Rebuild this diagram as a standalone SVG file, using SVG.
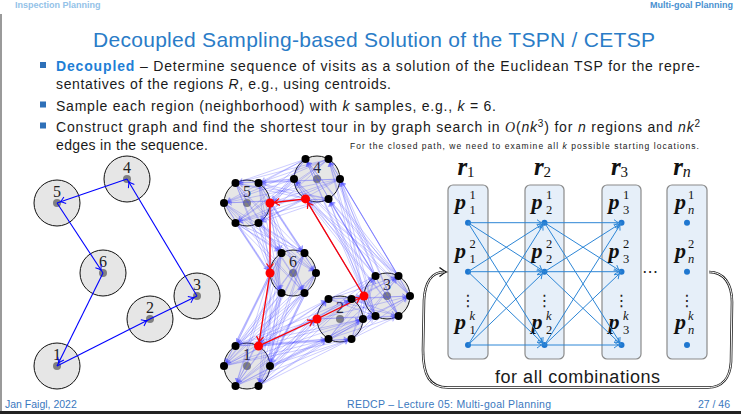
<svg xmlns="http://www.w3.org/2000/svg" width="741" height="414" viewBox="0 0 741 414">
<style>
.sans{font-family:"Liberation Sans",Arial,sans-serif}
.serif{font-family:"Liberation Serif","Times New Roman",serif}
.body{font-size:14px;fill:#1a1a1a}
.bul{fill:#2e70b8}
.reg{fill:#e6e6e6;stroke:#111;stroke-width:1}
.ctr{fill:#808080}
.num{font-family:"Liberation Serif",serif;font-size:16px;fill:#222;text-anchor:middle}
.blue{stroke:#0000ff;stroke-width:1.1;fill:none;marker-end:url(#ab)}
.light path{stroke:#4848ff;stroke-opacity:0.34;stroke-width:0.8;fill:none;marker-end:url(#al)}
.red{stroke:#ff0000;stroke-width:1.3;fill:none;marker-end:url(#ar)}
.samp{fill:#000}
.rsamp{fill:#ff0000}
.box{fill:#e6eff9;stroke:#8a8a8a;stroke-width:1.2}
.dot{fill:#1f77d0}
.edge{stroke:#2d86d6;stroke-width:1;fill:none;marker-end:url(#ae)}
.pm{font-family:"Liberation Serif",serif;font-weight:bold;font-style:italic;font-size:22px;fill:#111}
.sc{font-family:"Liberation Serif",serif;font-size:12.5px;fill:#111}
.rm{font-family:"Liberation Serif",serif;font-weight:bold;font-style:italic;font-size:25px;fill:#111}
</style>
<defs>
<marker id="ab" markerUnits="userSpaceOnUse" refX="3.5" refY="0" markerWidth="12" markerHeight="12" orient="auto" overflow="visible"><path d="M-5,-3.5 Q-1.5,-0.7 0,0 Q-1.5,0.7 -5,3.5" fill="none" stroke="#0000ff" stroke-width="1"/></marker>
<marker id="al" markerUnits="userSpaceOnUse" refX="4" refY="0" markerWidth="10" markerHeight="10" orient="auto" overflow="visible"><path d="M-3.5,-2.5 Q-1,-0.5 0,0 Q-1,0.5 -3.5,2.5" fill="none" stroke="#4848ff" stroke-opacity="0.5" stroke-width="0.7"/></marker>
<marker id="ar" markerUnits="userSpaceOnUse" refX="4.5" refY="0" markerWidth="12" markerHeight="12" orient="auto" overflow="visible"><path d="M-5,-3.5 Q-1.5,-0.7 0,0 Q-1.5,0.7 -5,3.5" fill="none" stroke="#ff0000" stroke-width="1.2"/></marker>
<marker id="ae" markerUnits="userSpaceOnUse" refX="3" refY="0" markerWidth="12" markerHeight="12" orient="auto" overflow="visible"><path d="M-4.5,-3 Q-1.2,-0.6 0,0 Q-1.2,0.6 -4.5,3" fill="none" stroke="#2d86d6" stroke-width="1"/></marker>
</defs>
<rect width="741" height="414" fill="#ffffff"/>
<rect x="0" y="14" width="2" height="397" fill="#9a9a9a"/>
<rect x="0" y="411" width="741" height="3" fill="#222"/>
<g id="header" class="sans" font-size="9" font-weight="bold">
<text x="15" y="8" fill="#93c2e8">Inspection Planning</text>
<text x="733" y="8" fill="#4a90d0" text-anchor="end">Multi-goal Planning</text>
</g>
<text id="title" class="sans" x="374" y="47" font-size="21" fill="#2a7cc7" text-anchor="middle" textLength="562">Decoupled Sampling-based Solution of the TSPN / CETSP</text>
<g id="bullets">
<rect class="bul" x="40" y="62" width="6" height="6"/>
<rect class="bul" x="40" y="101.5" width="6" height="6"/>
<rect class="bul" x="40" y="122.5" width="6" height="6"/>
<text class="sans body" x="56" y="71" textLength="644"><tspan fill="#1f7fd6" font-weight="bold">Decoupled</tspan> – Determine sequence of visits as a solution of the Euclidean TSP for the repre-</text>
<text class="sans body" x="56" y="89" textLength="335">sentatives of the regions <tspan font-style="italic">R</tspan>, e.g., using centroids.</text>
<text class="sans body" x="56" y="110.5" textLength="440">Sample each region (neighborhood) with <tspan font-style="italic">k</tspan> samples, e.g., <tspan font-style="italic">k</tspan> = 6.</text>
<text class="sans body" x="56" y="131.5" textLength="644">Construct graph and find the shortest tour in by graph search in <tspan class="serif" font-style="italic">O</tspan>(<tspan font-style="italic">nk</tspan><tspan font-size="10" dy="-5">3</tspan><tspan dy="5">) for </tspan><tspan font-style="italic">n</tspan> regions and <tspan font-style="italic">nk</tspan><tspan font-size="10" dy="-5">2</tspan></text>
<text class="sans body" x="56" y="149.5" textLength="152">edges in the sequence.</text>
<text class="sans" x="350" y="149" font-size="8.5" fill="#1a1a1a" textLength="349">For the closed path, we need to examine all <tspan font-style="italic">k</tspan> possible starting locations.</text>
</g>
<g id="left-diagram">
<g id="l1"><circle class="reg" cx="57" cy="366" r="23"/><circle class="ctr" cx="57" cy="366" r="4"/><text class="num" x="57" y="360">1</text></g>
<g id="l2"><circle class="reg" cx="150" cy="319" r="23"/><circle class="ctr" cx="150" cy="319" r="4"/><text class="num" x="150" y="313">2</text></g>
<g id="l3"><circle class="reg" cx="197" cy="296" r="23"/><circle class="ctr" cx="197" cy="296" r="4"/><text class="num" x="197" y="290">3</text></g>
<g id="l4"><circle class="reg" cx="127" cy="179" r="23"/><circle class="ctr" cx="127" cy="179" r="4"/><text class="num" x="127" y="173">4</text></g>
<g id="l5"><circle class="reg" cx="57" cy="203" r="23"/><circle class="ctr" cx="57" cy="203" r="4"/><text class="num" x="57" y="197">5</text></g>
<g id="l6"><circle class="reg" cx="103" cy="273" r="23"/><circle class="ctr" cx="103" cy="273" r="4"/><text class="num" x="103" y="267">6</text></g>
<g id="l-connectors">
<path class="blue" d="M57 366L150 319"/>
<path class="blue" d="M150 319L197 296"/>
<path class="blue" d="M197 296L127 179"/>
<path class="blue" d="M127 179L57 203"/>
<path class="blue" d="M57 203L103 273"/>
<path class="blue" d="M103 273L57 366"/>
</g>
</g>
<g id="middle-diagram">
<g id="m1"><circle class="reg" cx="247" cy="366" r="23"/><circle class="ctr" cx="247" cy="366" r="4"/><text class="num" x="247" y="360">1</text></g>
<g id="m2"><circle class="reg" cx="340" cy="319" r="23"/><circle class="ctr" cx="340" cy="319" r="4"/><text class="num" x="340" y="313">2</text></g>
<g id="m3"><circle class="reg" cx="387" cy="296" r="23"/><circle class="ctr" cx="387" cy="296" r="4"/><text class="num" x="387" y="290">3</text></g>
<g id="m4"><circle class="reg" cx="317" cy="179" r="23"/><circle class="ctr" cx="317" cy="179" r="4"/><text class="num" x="317" y="173">4</text></g>
<g id="m5"><circle class="reg" cx="247" cy="203" r="23"/><circle class="ctr" cx="247" cy="203" r="4"/><text class="num" x="247" y="197">5</text></g>
<g id="m6"><circle class="reg" cx="293" cy="273" r="23"/><circle class="ctr" cx="293" cy="273" r="4"/><text class="num" x="293" y="267">6</text></g>
<g id="m-connectors">
<g class="light">
<path d="M270 366L363 319"/><path d="M270 366L351.5 299.1"/><path d="M270 366L328.5 299.1"/><path d="M270 366L317 319"/><path d="M270 366L328.5 338.9"/><path d="M270 366L351.5 338.9"/>
<path d="M258.5 346.1L363 319"/><path d="M258.5 346.1L351.5 299.1"/><path d="M258.5 346.1L328.5 299.1"/><path d="M258.5 346.1L317 319"/><path d="M258.5 346.1L328.5 338.9"/><path d="M258.5 346.1L351.5 338.9"/>
<path d="M235.5 346.1L363 319"/><path d="M235.5 346.1L351.5 299.1"/><path d="M235.5 346.1L328.5 299.1"/><path d="M235.5 346.1L317 319"/><path d="M235.5 346.1L328.5 338.9"/><path d="M235.5 346.1L351.5 338.9"/>
<path d="M224 366L363 319"/><path d="M224 366L351.5 299.1"/><path d="M224 366L328.5 299.1"/><path d="M224 366L317 319"/><path d="M224 366L328.5 338.9"/><path d="M224 366L351.5 338.9"/>
<path d="M235.5 385.9L363 319"/><path d="M235.5 385.9L351.5 299.1"/><path d="M235.5 385.9L328.5 299.1"/><path d="M235.5 385.9L317 319"/><path d="M235.5 385.9L328.5 338.9"/><path d="M235.5 385.9L351.5 338.9"/>
<path d="M258.5 385.9L363 319"/><path d="M258.5 385.9L351.5 299.1"/><path d="M258.5 385.9L328.5 299.1"/><path d="M258.5 385.9L317 319"/><path d="M258.5 385.9L328.5 338.9"/><path d="M258.5 385.9L351.5 338.9"/>

<path d="M363 319L410 296"/><path d="M363 319L398.5 276.1"/><path d="M363 319L375.5 276.1"/><path d="M363 319L364 296"/><path d="M363 319L375.5 315.9"/><path d="M363 319L398.5 315.9"/>
<path d="M351.5 299.1L410 296"/><path d="M351.5 299.1L398.5 276.1"/><path d="M351.5 299.1L375.5 276.1"/><path d="M351.5 299.1L364 296"/><path d="M351.5 299.1L375.5 315.9"/><path d="M351.5 299.1L398.5 315.9"/>
<path d="M328.5 299.1L410 296"/><path d="M328.5 299.1L398.5 276.1"/><path d="M328.5 299.1L375.5 276.1"/><path d="M328.5 299.1L364 296"/><path d="M328.5 299.1L375.5 315.9"/><path d="M328.5 299.1L398.5 315.9"/>
<path d="M317 319L410 296"/><path d="M317 319L398.5 276.1"/><path d="M317 319L375.5 276.1"/><path d="M317 319L364 296"/><path d="M317 319L375.5 315.9"/><path d="M317 319L398.5 315.9"/>
<path d="M328.5 338.9L410 296"/><path d="M328.5 338.9L398.5 276.1"/><path d="M328.5 338.9L375.5 276.1"/><path d="M328.5 338.9L364 296"/><path d="M328.5 338.9L375.5 315.9"/><path d="M328.5 338.9L398.5 315.9"/>
<path d="M351.5 338.9L410 296"/><path d="M351.5 338.9L398.5 276.1"/><path d="M351.5 338.9L375.5 276.1"/><path d="M351.5 338.9L364 296"/><path d="M351.5 338.9L375.5 315.9"/><path d="M351.5 338.9L398.5 315.9"/>

<path d="M410 296L340 179"/><path d="M410 296L328.5 159.1"/><path d="M410 296L305.5 159.1"/><path d="M410 296L294 179"/><path d="M410 296L305.5 198.9"/><path d="M410 296L328.5 198.9"/>
<path d="M398.5 276.1L340 179"/><path d="M398.5 276.1L328.5 159.1"/><path d="M398.5 276.1L305.5 159.1"/><path d="M398.5 276.1L294 179"/><path d="M398.5 276.1L305.5 198.9"/><path d="M398.5 276.1L328.5 198.9"/>
<path d="M375.5 276.1L340 179"/><path d="M375.5 276.1L328.5 159.1"/><path d="M375.5 276.1L305.5 159.1"/><path d="M375.5 276.1L294 179"/><path d="M375.5 276.1L305.5 198.9"/><path d="M375.5 276.1L328.5 198.9"/>
<path d="M364 296L340 179"/><path d="M364 296L328.5 159.1"/><path d="M364 296L305.5 159.1"/><path d="M364 296L294 179"/><path d="M364 296L305.5 198.9"/><path d="M364 296L328.5 198.9"/>
<path d="M375.5 315.9L340 179"/><path d="M375.5 315.9L328.5 159.1"/><path d="M375.5 315.9L305.5 159.1"/><path d="M375.5 315.9L294 179"/><path d="M375.5 315.9L305.5 198.9"/><path d="M375.5 315.9L328.5 198.9"/>
<path d="M398.5 315.9L340 179"/><path d="M398.5 315.9L328.5 159.1"/><path d="M398.5 315.9L305.5 159.1"/><path d="M398.5 315.9L294 179"/><path d="M398.5 315.9L305.5 198.9"/><path d="M398.5 315.9L328.5 198.9"/>

<path d="M340 179L270 203"/><path d="M340 179L258.5 183.1"/><path d="M340 179L235.5 183.1"/><path d="M340 179L224 203"/><path d="M340 179L235.5 222.9"/><path d="M340 179L258.5 222.9"/>
<path d="M328.5 159.1L270 203"/><path d="M328.5 159.1L258.5 183.1"/><path d="M328.5 159.1L235.5 183.1"/><path d="M328.5 159.1L224 203"/><path d="M328.5 159.1L235.5 222.9"/><path d="M328.5 159.1L258.5 222.9"/>
<path d="M305.5 159.1L270 203"/><path d="M305.5 159.1L258.5 183.1"/><path d="M305.5 159.1L235.5 183.1"/><path d="M305.5 159.1L224 203"/><path d="M305.5 159.1L235.5 222.9"/><path d="M305.5 159.1L258.5 222.9"/>
<path d="M294 179L270 203"/><path d="M294 179L258.5 183.1"/><path d="M294 179L235.5 183.1"/><path d="M294 179L224 203"/><path d="M294 179L235.5 222.9"/><path d="M294 179L258.5 222.9"/>
<path d="M305.5 198.9L270 203"/><path d="M305.5 198.9L258.5 183.1"/><path d="M305.5 198.9L235.5 183.1"/><path d="M305.5 198.9L224 203"/><path d="M305.5 198.9L235.5 222.9"/><path d="M305.5 198.9L258.5 222.9"/>
<path d="M328.5 198.9L270 203"/><path d="M328.5 198.9L258.5 183.1"/><path d="M328.5 198.9L235.5 183.1"/><path d="M328.5 198.9L224 203"/><path d="M328.5 198.9L235.5 222.9"/><path d="M328.5 198.9L258.5 222.9"/>

<path d="M270 203L316 273"/><path d="M270 203L304.5 253.1"/><path d="M270 203L281.5 253.1"/><path d="M270 203L270 273"/><path d="M270 203L281.5 292.9"/><path d="M270 203L304.5 292.9"/>
<path d="M258.5 183.1L316 273"/><path d="M258.5 183.1L304.5 253.1"/><path d="M258.5 183.1L281.5 253.1"/><path d="M258.5 183.1L270 273"/><path d="M258.5 183.1L281.5 292.9"/><path d="M258.5 183.1L304.5 292.9"/>
<path d="M235.5 183.1L316 273"/><path d="M235.5 183.1L304.5 253.1"/><path d="M235.5 183.1L281.5 253.1"/><path d="M235.5 183.1L270 273"/><path d="M235.5 183.1L281.5 292.9"/><path d="M235.5 183.1L304.5 292.9"/>
<path d="M224 203L316 273"/><path d="M224 203L304.5 253.1"/><path d="M224 203L281.5 253.1"/><path d="M224 203L270 273"/><path d="M224 203L281.5 292.9"/><path d="M224 203L304.5 292.9"/>
<path d="M235.5 222.9L316 273"/><path d="M235.5 222.9L304.5 253.1"/><path d="M235.5 222.9L281.5 253.1"/><path d="M235.5 222.9L270 273"/><path d="M235.5 222.9L281.5 292.9"/><path d="M235.5 222.9L304.5 292.9"/>
<path d="M258.5 222.9L316 273"/><path d="M258.5 222.9L304.5 253.1"/><path d="M258.5 222.9L281.5 253.1"/><path d="M258.5 222.9L270 273"/><path d="M258.5 222.9L281.5 292.9"/><path d="M258.5 222.9L304.5 292.9"/>

<path d="M316 273L270 366"/><path d="M316 273L258.5 346.1"/><path d="M316 273L235.5 346.1"/><path d="M316 273L224 366"/><path d="M316 273L235.5 385.9"/><path d="M316 273L258.5 385.9"/>
<path d="M304.5 253.1L270 366"/><path d="M304.5 253.1L258.5 346.1"/><path d="M304.5 253.1L235.5 346.1"/><path d="M304.5 253.1L224 366"/><path d="M304.5 253.1L235.5 385.9"/><path d="M304.5 253.1L258.5 385.9"/>
<path d="M281.5 253.1L270 366"/><path d="M281.5 253.1L258.5 346.1"/><path d="M281.5 253.1L235.5 346.1"/><path d="M281.5 253.1L224 366"/><path d="M281.5 253.1L235.5 385.9"/><path d="M281.5 253.1L258.5 385.9"/>
<path d="M270 273L270 366"/><path d="M270 273L258.5 346.1"/><path d="M270 273L235.5 346.1"/><path d="M270 273L224 366"/><path d="M270 273L235.5 385.9"/><path d="M270 273L258.5 385.9"/>
<path d="M281.5 292.9L270 366"/><path d="M281.5 292.9L258.5 346.1"/><path d="M281.5 292.9L235.5 346.1"/><path d="M281.5 292.9L224 366"/><path d="M281.5 292.9L235.5 385.9"/><path d="M281.5 292.9L258.5 385.9"/>
<path d="M304.5 292.9L270 366"/><path d="M304.5 292.9L258.5 346.1"/><path d="M304.5 292.9L235.5 346.1"/><path d="M304.5 292.9L224 366"/><path d="M304.5 292.9L235.5 385.9"/><path d="M304.5 292.9L258.5 385.9"/>
</g>
<path class="red" d="M258.5 346.1L317 319"/>
<path class="red" d="M317 319L364 296"/>
<path class="red" d="M364 296L305.5 198.9"/>
<path class="red" d="M305.5 198.9L270 203"/>
<path class="red" d="M270 203L270 273"/>
<path class="red" d="M270 273L258.5 346.1"/>
</g>
<g id="m-samples" class="samp">
<circle cx="270" cy="366" r="4"/><circle cx="235.5" cy="346.1" r="4"/><circle cx="224" cy="366" r="4"/><circle cx="235.5" cy="385.9" r="4"/><circle cx="258.5" cy="385.9" r="4"/>
<circle cx="363" cy="319" r="4"/><circle cx="351.5" cy="299.1" r="4"/><circle cx="328.5" cy="299.1" r="4"/><circle cx="328.5" cy="338.9" r="4"/><circle cx="351.5" cy="338.9" r="4"/>
<circle cx="410" cy="296" r="4"/><circle cx="398.5" cy="276.1" r="4"/><circle cx="375.5" cy="276.1" r="4"/><circle cx="375.5" cy="315.9" r="4"/><circle cx="398.5" cy="315.9" r="4"/>
<circle cx="340" cy="179" r="4"/><circle cx="328.5" cy="159.1" r="4"/><circle cx="305.5" cy="159.1" r="4"/><circle cx="294" cy="179" r="4"/><circle cx="328.5" cy="198.9" r="4"/>
<circle cx="258.5" cy="183.1" r="4"/><circle cx="235.5" cy="183.1" r="4"/><circle cx="224" cy="203" r="4"/><circle cx="235.5" cy="222.9" r="4"/><circle cx="258.5" cy="222.9" r="4"/>
<circle cx="316" cy="273" r="4"/><circle cx="304.5" cy="253.1" r="4"/><circle cx="281.5" cy="253.1" r="4"/><circle cx="281.5" cy="292.9" r="4"/><circle cx="304.5" cy="292.9" r="4"/>
</g>
<g id="m-selected" class="rsamp">
<circle cx="258.5" cy="346.1" r="4.5"/><circle cx="317" cy="319" r="4.5"/><circle cx="364" cy="296" r="4.5"/><circle cx="305.5" cy="198.9" r="4.5"/><circle cx="270" cy="203" r="4.5"/><circle cx="270" cy="273" r="4.5"/>
</g>
</g>
<g id="right-diagram">
<g id="r1">
<rect class="box" x="448" y="185" width="40" height="174" rx="5"/>
<text class="rm" x="466" y="175" text-anchor="middle">r<tspan font-size="15" font-weight="normal" font-style="normal" dy="2">1</tspan></text>
<text class="pm" x="455" y="208.7">p</text><text class="sc" x="469.5" y="198.5">1</text><text class="sc" x="469.5" y="214">1</text>
<text class="pm" x="455" y="257.7">p</text><text class="sc" x="469.5" y="247.5">2</text><text class="sc" x="469.5" y="263">1</text>
<text class="pm" x="455" y="329">p</text><text class="sc" x="469.5" y="319.5" font-style="italic">k</text><text class="sc" x="469.5" y="334">1</text>
<text x="468" y="306" font-family="DejaVu Sans" font-size="16" fill="#222" text-anchor="middle">⋮</text>
<circle class="dot" cx="468" cy="222.7" r="3"/><circle class="dot" cx="468" cy="271.7" r="3"/><circle class="dot" cx="468" cy="345" r="3"/>
</g>
<g id="r2">
<rect class="box" x="525" y="185" width="39" height="174" rx="5"/>
<text class="rm" x="542.5" y="175" text-anchor="middle">r<tspan font-size="15" font-weight="normal" font-style="normal" dy="2">2</tspan></text>
<text class="pm" x="531.5" y="208.7">p</text><text class="sc" x="546" y="198.5">1</text><text class="sc" x="546" y="214">2</text>
<text class="pm" x="531.5" y="257.7">p</text><text class="sc" x="546" y="247.5">2</text><text class="sc" x="546" y="263">2</text>
<text class="pm" x="531.5" y="329">p</text><text class="sc" x="546" y="319.5" font-style="italic">k</text><text class="sc" x="546" y="334">2</text>
<text x="544.5" y="306" font-family="DejaVu Sans" font-size="16" fill="#222" text-anchor="middle">⋮</text>
<circle class="dot" cx="544.5" cy="222.7" r="3"/><circle class="dot" cx="544.5" cy="271.7" r="3"/><circle class="dot" cx="544.5" cy="345" r="3"/>
</g>
<g id="r3">
<rect class="box" x="602" y="185" width="39" height="174" rx="5"/>
<text class="rm" x="619.5" y="175" text-anchor="middle">r<tspan font-size="15" font-weight="normal" font-style="normal" dy="2">3</tspan></text>
<text class="pm" x="608.5" y="208.7">p</text><text class="sc" x="623" y="198.5">1</text><text class="sc" x="623" y="214">3</text>
<text class="pm" x="608.5" y="257.7">p</text><text class="sc" x="623" y="247.5">2</text><text class="sc" x="623" y="263">3</text>
<text class="pm" x="608.5" y="329">p</text><text class="sc" x="623" y="319.5" font-style="italic">k</text><text class="sc" x="623" y="334">3</text>
<text x="621.5" y="306" font-family="DejaVu Sans" font-size="16" fill="#222" text-anchor="middle">⋮</text>
<circle class="dot" cx="621.5" cy="222.7" r="3"/><circle class="dot" cx="621.5" cy="271.7" r="3"/><circle class="dot" cx="621.5" cy="345" r="3"/>
</g>
<g id="rn">
<rect class="box" x="667" y="185" width="40" height="174" rx="5"/>
<text class="rm" x="682" y="175" text-anchor="middle">r<tspan font-size="16" font-weight="normal" dy="2">n</tspan></text>
<text class="pm" x="675" y="208.7">p</text><text class="sc" x="688" y="198.5">1</text><text class="sc" x="688" y="214" font-style="italic">n</text>
<text class="pm" x="675" y="257.7">p</text><text class="sc" x="688" y="247.5">2</text><text class="sc" x="688" y="263" font-style="italic">n</text>
<text class="pm" x="675" y="329">p</text><text class="sc" x="688" y="319.5" font-style="italic">k</text><text class="sc" x="688" y="334" font-style="italic">n</text>
<text x="687" y="306" font-family="DejaVu Sans" font-size="16" fill="#222" text-anchor="middle">⋮</text>
<circle class="dot" cx="687" cy="222.7" r="3"/><circle class="dot" cx="687" cy="271.7" r="3"/><circle class="dot" cx="687" cy="345" r="3"/>
</g>
<text id="hdots" x="650" y="277" font-family="DejaVu Sans" font-size="16" fill="#222" text-anchor="middle">⋯</text>
<g id="r-connectors">
<path class="edge" d="M468 222.7L544.5 222.7"/><path class="edge" d="M468 222.7L544.5 271.7"/><path class="edge" d="M468 222.7L544.5 345"/>
<path class="edge" d="M468 271.7L544.5 222.7"/><path class="edge" d="M468 271.7L544.5 271.7"/><path class="edge" d="M468 271.7L544.5 345"/>
<path class="edge" d="M468 345L544.5 222.7"/><path class="edge" d="M468 345L544.5 271.7"/><path class="edge" d="M468 345L544.5 345"/>
<path class="edge" d="M544.5 222.7L621.5 222.7"/><path class="edge" d="M544.5 222.7L621.5 271.7"/><path class="edge" d="M544.5 222.7L621.5 345"/>
<path class="edge" d="M544.5 271.7L621.5 222.7"/><path class="edge" d="M544.5 271.7L621.5 271.7"/><path class="edge" d="M544.5 271.7L621.5 345"/>
<path class="edge" d="M544.5 345L621.5 222.7"/><path class="edge" d="M544.5 345L621.5 271.7"/><path class="edge" d="M544.5 345L621.5 345"/>
<path d="M709 272 C724 272 732 284 732 302 L731 362 C730 378 722 387.5 708 387.5 L448 387.5 C430 387.5 423 376 423 350 L424 300 C425 282 432 272 444 272" fill="none" stroke="#222" stroke-width="2.6"/>
<path d="M709 272 C724 272 732 284 732 302 L731 362 C730 378 722 387.5 708 387.5 L448 387.5 C430 387.5 423 376 423 350 L424 300 C425 282 432 272 444 272" fill="none" stroke="#fff" stroke-width="1"/>
<path d="M439.5 267.5 Q444 271 446.5 272 Q444 273 439.5 276.5" fill="none" stroke="#111" stroke-width="1.3"/>
</g>
<text id="combo-label" class="sans" x="495" y="382.5" font-size="18" fill="#1a1a1a" textLength="165">for all combinations</text>
</g>
<g id="footer" class="sans" font-size="10.5" fill="#3a78be">
<text x="5" y="408">Jan Faigl, 2022</text>
<text x="347" y="408" textLength="204">REDCP – Lecture 05: Multi-goal Planning</text>
<text x="730" y="408" text-anchor="end">27 / 46</text>
</g>
</svg>
